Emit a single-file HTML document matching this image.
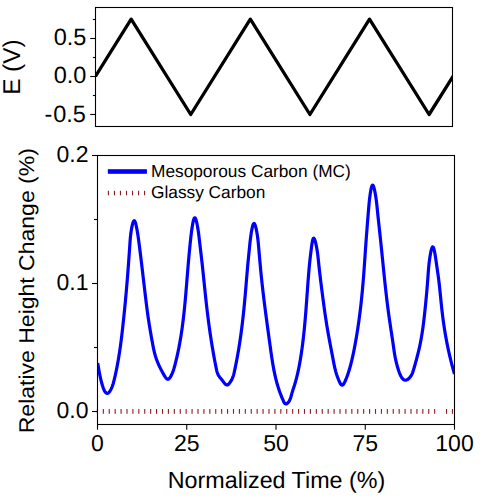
<!DOCTYPE html>
<html><head><meta charset="utf-8"><style>
html,body{margin:0;padding:0;background:#fff;}
svg{display:block;}
text{font-family:"Liberation Sans",sans-serif;fill:#000;text-rendering:geometricPrecision;}
</style></head><body>
<svg width="491" height="504" viewBox="0 0 491 504">
<rect x="0" y="0" width="491" height="504" fill="#fff"/>
<defs><clipPath id="cb"><rect x="97.5" y="155.5" width="357.0" height="269.0"/></clipPath>
<clipPath id="ct"><rect x="95.5" y="7.5" width="357.0" height="119.0"/></clipPath></defs>
<g clip-path="url(#ct)"><path d="M95.41,76.50 L131.16,19.12 L190.75,114.50 L250.34,19.12 L309.93,114.50 L369.51,19.12 L429.10,114.50 L467.24,53.70" fill="none" stroke="#000" stroke-width="3.3" stroke-linejoin="round"/></g>
<rect x="95.5" y="7.5" width="357.00" height="119.00" fill="none" stroke="#000" stroke-width="1.1"/>
<g fill="#921a22"><rect x="96.85" y="409.0" width="1.1" height="4.8"/><rect x="102.77" y="409.0" width="1.1" height="4.8"/><rect x="108.68" y="409.0" width="1.1" height="4.8"/><rect x="114.60" y="409.0" width="1.1" height="4.8"/><rect x="120.52" y="409.0" width="1.1" height="4.8"/><rect x="126.44" y="409.0" width="1.1" height="4.8"/><rect x="132.35" y="409.0" width="1.1" height="4.8"/><rect x="138.27" y="409.0" width="1.1" height="4.8"/><rect x="144.19" y="409.0" width="1.1" height="4.8"/><rect x="150.10" y="409.0" width="1.1" height="4.8"/><rect x="156.02" y="409.0" width="1.1" height="4.8"/><rect x="161.94" y="409.0" width="1.1" height="4.8"/><rect x="167.85" y="409.0" width="1.1" height="4.8"/><rect x="173.77" y="409.0" width="1.1" height="4.8"/><rect x="179.69" y="409.0" width="1.1" height="4.8"/><rect x="185.60" y="409.0" width="1.1" height="4.8"/><rect x="191.52" y="409.0" width="1.1" height="4.8"/><rect x="197.44" y="409.0" width="1.1" height="4.8"/><rect x="203.36" y="409.0" width="1.1" height="4.8"/><rect x="209.27" y="409.0" width="1.1" height="4.8"/><rect x="215.19" y="409.0" width="1.1" height="4.8"/><rect x="221.11" y="409.0" width="1.1" height="4.8"/><rect x="227.02" y="409.0" width="1.1" height="4.8"/><rect x="232.94" y="409.0" width="1.1" height="4.8"/><rect x="238.86" y="409.0" width="1.1" height="4.8"/><rect x="244.77" y="409.0" width="1.1" height="4.8"/><rect x="250.69" y="409.0" width="1.1" height="4.8"/><rect x="256.61" y="409.0" width="1.1" height="4.8"/><rect x="262.53" y="409.0" width="1.1" height="4.8"/><rect x="268.44" y="409.0" width="1.1" height="4.8"/><rect x="274.36" y="409.0" width="1.1" height="4.8"/><rect x="280.28" y="409.0" width="1.1" height="4.8"/><rect x="286.19" y="409.0" width="1.1" height="4.8"/><rect x="292.11" y="409.0" width="1.1" height="4.8"/><rect x="298.03" y="409.0" width="1.1" height="4.8"/><rect x="303.94" y="409.0" width="1.1" height="4.8"/><rect x="309.86" y="409.0" width="1.1" height="4.8"/><rect x="315.78" y="409.0" width="1.1" height="4.8"/><rect x="321.70" y="409.0" width="1.1" height="4.8"/><rect x="327.61" y="409.0" width="1.1" height="4.8"/><rect x="333.53" y="409.0" width="1.1" height="4.8"/><rect x="339.45" y="409.0" width="1.1" height="4.8"/><rect x="345.36" y="409.0" width="1.1" height="4.8"/><rect x="351.28" y="409.0" width="1.1" height="4.8"/><rect x="357.20" y="409.0" width="1.1" height="4.8"/><rect x="363.11" y="409.0" width="1.1" height="4.8"/><rect x="369.03" y="409.0" width="1.1" height="4.8"/><rect x="374.95" y="409.0" width="1.1" height="4.8"/><rect x="380.87" y="409.0" width="1.1" height="4.8"/><rect x="386.78" y="409.0" width="1.1" height="4.8"/><rect x="392.70" y="409.0" width="1.1" height="4.8"/><rect x="398.62" y="409.0" width="1.1" height="4.8"/><rect x="404.53" y="409.0" width="1.1" height="4.8"/><rect x="410.45" y="409.0" width="1.1" height="4.8"/><rect x="416.37" y="409.0" width="1.1" height="4.8"/><rect x="422.29" y="409.0" width="1.1" height="4.8"/><rect x="428.20" y="409.0" width="1.1" height="4.8"/><rect x="434.12" y="409.0" width="1.1" height="4.8"/><rect x="445.95" y="409.0" width="1.1" height="4.8"/><rect x="451.87" y="409.0" width="1.1" height="4.8"/></g>
<g clip-path="url(#cb)"><path d="M97.65,363.00 L97.91,364.40 L98.17,365.84 L98.43,367.29 L98.69,368.76 L98.95,370.24 L99.22,371.71 L99.50,373.18 L99.77,374.62 L100.05,376.03 L100.34,377.41 L100.64,378.75 L100.95,380.06 L101.28,381.39 L101.65,382.76 L102.07,384.22 L102.54,385.79 L103.09,387.49 L103.72,389.19 L104.45,390.76 L105.30,392.08 L106.26,393.01 L107.27,393.37 L108.28,393.03 L109.25,392.10 L110.14,390.82 L110.93,389.41 L111.62,387.99 L112.21,386.57 L112.72,385.14 L113.17,383.71 L113.57,382.28 L113.94,380.85 L114.29,379.41 L114.63,377.97 L114.97,376.54 L115.29,375.10 L115.61,373.66 L115.92,372.22 L116.22,370.78 L116.52,369.33 L116.81,367.89 L117.09,366.45 L117.36,365.00 L117.63,363.56 L117.89,362.11 L118.15,360.66 L118.40,359.22 L118.64,357.77 L118.88,356.32 L119.11,354.87 L119.34,353.42 L119.56,351.97 L119.78,350.52 L119.99,349.07 L120.20,347.62 L120.40,346.17 L120.60,344.72 L120.80,343.26 L120.99,341.81 L121.17,340.36 L121.36,338.91 L121.54,337.45 L121.71,336.00 L121.89,334.54 L122.06,333.09 L122.23,331.64 L122.39,330.18 L122.56,328.73 L122.72,327.27 L122.88,325.82 L123.04,324.36 L123.19,322.91 L123.35,321.45 L123.50,320.00 L123.65,318.54 L123.80,317.09 L123.95,315.64 L124.10,314.18 L124.25,312.73 L124.39,311.27 L124.54,309.82 L124.68,308.36 L124.83,306.90 L124.97,305.45 L125.11,303.99 L125.25,302.53 L125.39,301.07 L125.53,299.61 L125.66,298.15 L125.80,296.69 L125.93,295.23 L126.06,293.77 L126.20,292.30 L126.33,290.84 L126.45,289.37 L126.58,287.90 L126.71,286.43 L126.83,284.96 L126.96,283.48 L127.08,282.01 L127.20,280.53 L127.32,279.06 L127.44,277.58 L127.56,276.10 L127.68,274.63 L127.79,273.15 L127.91,271.68 L128.02,270.20 L128.13,268.73 L128.24,267.26 L128.35,265.79 L128.46,264.32 L128.57,262.86 L128.68,261.40 L128.78,259.94 L128.89,258.49 L128.99,257.04 L129.09,255.59 L129.19,254.15 L129.30,252.72 L129.39,251.28 L129.49,249.86 L129.59,248.44 L129.69,247.03 L129.78,245.62 L129.88,244.22 L129.97,242.83 L130.07,241.44 L130.17,240.04 L130.28,238.62 L130.41,237.14 L130.57,235.60 L130.76,233.98 L130.99,232.26 L131.26,230.42 L131.59,228.52 L131.95,226.63 L132.34,224.86 L132.76,223.30 L133.19,222.02 L133.64,221.13 L134.09,220.72 L134.54,220.87 L134.98,221.53 L135.41,222.62 L135.83,224.06 L136.23,225.74 L136.61,227.57 L136.97,229.48 L137.29,231.36 L137.59,233.13 L137.85,234.80 L138.09,236.37 L138.31,237.87 L138.51,239.31 L138.71,240.72 L138.89,242.10 L139.07,243.48 L139.25,244.87 L139.43,246.26 L139.61,247.67 L139.79,249.07 L139.97,250.49 L140.15,251.90 L140.33,253.33 L140.50,254.76 L140.68,256.19 L140.86,257.63 L141.03,259.07 L141.21,260.52 L141.38,261.97 L141.56,263.42 L141.73,264.88 L141.90,266.33 L142.08,267.80 L142.25,269.26 L142.42,270.73 L142.60,272.19 L142.77,273.66 L142.94,275.13 L143.12,276.61 L143.29,278.08 L143.46,279.55 L143.63,281.02 L143.81,282.50 L143.98,283.97 L144.15,285.44 L144.33,286.91 L144.50,288.38 L144.67,289.85 L144.85,291.31 L145.02,292.78 L145.19,294.24 L145.37,295.70 L145.54,297.16 L145.72,298.61 L145.90,300.06 L146.07,301.51 L146.25,302.96 L146.43,304.41 L146.62,305.85 L146.80,307.30 L146.99,308.74 L147.18,310.19 L147.37,311.63 L147.57,313.07 L147.77,314.52 L147.97,315.96 L148.18,317.41 L148.39,318.85 L148.61,320.30 L148.83,321.75 L149.05,323.20 L149.28,324.65 L149.52,326.10 L149.75,327.55 L149.99,329.00 L150.24,330.46 L150.49,331.91 L150.74,333.36 L150.99,334.81 L151.25,336.26 L151.51,337.71 L151.77,339.16 L152.03,340.61 L152.30,342.05 L152.57,343.49 L152.84,344.94 L153.11,346.38 L153.40,347.81 L153.69,349.25 L154.00,350.68 L154.34,352.10 L154.69,353.52 L155.08,354.93 L155.50,356.34 L155.95,357.74 L156.42,359.13 L156.93,360.50 L157.46,361.86 L158.01,363.20 L158.59,364.51 L159.18,365.81 L159.79,367.09 L160.43,368.36 L161.10,369.66 L161.81,371.00 L162.56,372.40 L163.37,373.88 L164.22,375.43 L165.12,376.91 L166.06,378.16 L167.00,379.01 L167.96,379.28 L168.90,378.88 L169.82,377.92 L170.68,376.58 L171.48,375.03 L172.19,373.44 L172.80,371.90 L173.34,370.43 L173.81,369.00 L174.22,367.60 L174.61,366.21 L174.98,364.83 L175.34,363.44 L175.70,362.04 L176.04,360.64 L176.38,359.23 L176.72,357.81 L177.04,356.39 L177.36,354.97 L177.67,353.54 L177.98,352.10 L178.28,350.67 L178.57,349.23 L178.86,347.78 L179.14,346.34 L179.41,344.89 L179.68,343.44 L179.94,341.99 L180.19,340.54 L180.44,339.08 L180.68,337.63 L180.92,336.18 L181.15,334.72 L181.37,333.27 L181.59,331.82 L181.81,330.37 L182.01,328.91 L182.22,327.46 L182.41,326.01 L182.61,324.56 L182.79,323.11 L182.98,321.65 L183.16,320.20 L183.33,318.75 L183.50,317.30 L183.67,315.85 L183.83,314.40 L183.99,312.94 L184.14,311.49 L184.30,310.04 L184.44,308.58 L184.59,307.13 L184.73,305.68 L184.87,304.22 L185.01,302.77 L185.15,301.31 L185.28,299.86 L185.41,298.40 L185.54,296.94 L185.67,295.49 L185.79,294.03 L185.92,292.57 L186.04,291.11 L186.16,289.65 L186.28,288.19 L186.40,286.73 L186.52,285.26 L186.64,283.80 L186.76,282.34 L186.88,280.87 L186.99,279.41 L187.11,277.94 L187.23,276.47 L187.35,275.00 L187.47,273.53 L187.59,272.06 L187.71,270.59 L187.83,269.11 L187.95,267.64 L188.08,266.16 L188.20,264.69 L188.33,263.21 L188.46,261.73 L188.59,260.26 L188.72,258.79 L188.85,257.32 L188.98,255.85 L189.12,254.39 L189.25,252.93 L189.39,251.48 L189.53,250.03 L189.67,248.60 L189.81,247.17 L189.95,245.74 L190.09,244.33 L190.23,242.93 L190.38,241.54 L190.52,240.16 L190.67,238.79 L190.82,237.41 L190.97,236.02 L191.15,234.58 L191.33,233.08 L191.54,231.50 L191.78,229.81 L192.04,228.00 L192.34,226.09 L192.66,224.17 L193.01,222.34 L193.38,220.68 L193.77,219.31 L194.18,218.30 L194.60,217.77 L195.02,217.79 L195.46,218.37 L195.89,219.41 L196.31,220.81 L196.72,222.48 L197.11,224.32 L197.47,226.23 L197.79,228.12 L198.08,229.89 L198.33,231.53 L198.54,233.06 L198.73,234.51 L198.91,235.89 L199.07,237.25 L199.22,238.60 L199.38,239.97 L199.55,241.38 L199.71,242.81 L199.88,244.27 L200.06,245.73 L200.23,247.19 L200.40,248.65 L200.57,250.11 L200.74,251.57 L200.92,253.03 L201.09,254.49 L201.26,255.95 L201.42,257.41 L201.59,258.87 L201.76,260.33 L201.92,261.79 L202.09,263.25 L202.25,264.71 L202.41,266.17 L202.57,267.63 L202.73,269.08 L202.88,270.54 L203.04,272.00 L203.19,273.46 L203.34,274.91 L203.49,276.37 L203.64,277.83 L203.79,279.28 L203.94,280.74 L204.09,282.20 L204.24,283.65 L204.39,285.11 L204.54,286.57 L204.69,288.02 L204.84,289.48 L204.99,290.93 L205.14,292.39 L205.29,293.85 L205.45,295.30 L205.60,296.76 L205.76,298.22 L205.92,299.67 L206.08,301.13 L206.24,302.59 L206.40,304.05 L206.57,305.50 L206.73,306.96 L206.90,308.42 L207.07,309.88 L207.25,311.33 L207.42,312.79 L207.60,314.25 L207.78,315.71 L207.96,317.16 L208.15,318.62 L208.34,320.08 L208.53,321.53 L208.72,322.99 L208.92,324.45 L209.11,325.90 L209.31,327.36 L209.52,328.81 L209.72,330.27 L209.93,331.72 L210.14,333.17 L210.35,334.62 L210.57,336.08 L210.79,337.53 L211.01,338.98 L211.24,340.43 L211.46,341.88 L211.69,343.32 L211.93,344.77 L212.17,346.22 L212.41,347.66 L212.65,349.11 L212.90,350.55 L213.15,351.99 L213.40,353.43 L213.65,354.87 L213.91,356.31 L214.18,357.75 L214.44,359.18 L214.71,360.62 L214.99,362.05 L215.26,363.48 L215.54,364.91 L215.83,366.34 L216.12,367.77 L216.41,369.19 L216.73,370.61 L217.10,372.00 L217.56,373.36 L218.12,374.67 L218.82,375.93 L219.66,377.13 L220.61,378.32 L221.61,379.53 L222.62,380.78 L223.61,382.12 L224.58,383.40 L225.55,384.42 L226.55,384.95 L227.60,384.81 L228.67,384.07 L229.71,382.92 L230.68,381.54 L231.52,380.09 L232.22,378.64 L232.81,377.20 L233.31,375.76 L233.73,374.33 L234.09,372.90 L234.41,371.47 L234.72,370.03 L235.02,368.60 L235.32,367.17 L235.61,365.74 L235.90,364.30 L236.19,362.87 L236.47,361.43 L236.74,360.00 L237.01,358.56 L237.28,357.12 L237.54,355.68 L237.80,354.25 L238.05,352.81 L238.30,351.36 L238.55,349.92 L238.79,348.48 L239.02,347.03 L239.26,345.59 L239.49,344.14 L239.71,342.70 L239.93,341.25 L240.15,339.80 L240.36,338.35 L240.57,336.90 L240.77,335.45 L240.97,333.99 L241.17,332.54 L241.36,331.08 L241.55,329.63 L241.74,328.17 L241.92,326.72 L242.10,325.26 L242.28,323.80 L242.45,322.34 L242.62,320.88 L242.79,319.42 L242.96,317.96 L243.12,316.50 L243.28,315.04 L243.43,313.58 L243.59,312.12 L243.74,310.66 L243.89,309.20 L244.03,307.74 L244.18,306.28 L244.32,304.82 L244.46,303.36 L244.59,301.90 L244.73,300.44 L244.86,298.98 L244.99,297.53 L245.12,296.07 L245.25,294.61 L245.38,293.15 L245.50,291.70 L245.63,290.24 L245.75,288.79 L245.87,287.33 L246.00,285.87 L246.12,284.42 L246.24,282.96 L246.36,281.50 L246.48,280.04 L246.60,278.58 L246.72,277.13 L246.85,275.66 L246.97,274.20 L247.10,272.74 L247.22,271.28 L247.35,269.81 L247.48,268.35 L247.61,266.88 L247.74,265.41 L247.87,263.94 L248.01,262.47 L248.15,261.00 L248.29,259.52 L248.43,258.04 L248.58,256.57 L248.72,255.10 L248.87,253.63 L249.02,252.18 L249.17,250.73 L249.31,249.30 L249.46,247.89 L249.60,246.50 L249.74,245.13 L249.88,243.78 L250.02,242.42 L250.17,241.03 L250.34,239.58 L250.53,238.07 L250.74,236.45 L250.99,234.71 L251.28,232.84 L251.60,230.92 L251.94,229.04 L252.32,227.29 L252.72,225.77 L253.13,224.56 L253.56,223.76 L254.00,223.45 L254.45,223.71 L254.89,224.47 L255.33,225.64 L255.76,227.13 L256.17,228.85 L256.55,230.71 L256.90,232.63 L257.21,234.51 L257.48,236.28 L257.71,237.94 L257.91,239.50 L258.07,240.99 L258.22,242.42 L258.36,243.81 L258.48,245.19 L258.60,246.57 L258.72,247.96 L258.85,249.36 L258.97,250.77 L259.09,252.19 L259.22,253.61 L259.34,255.04 L259.46,256.48 L259.59,257.93 L259.72,259.38 L259.85,260.83 L259.98,262.29 L260.11,263.75 L260.24,265.21 L260.38,266.68 L260.51,268.15 L260.65,269.62 L260.79,271.09 L260.94,272.56 L261.08,274.03 L261.23,275.50 L261.38,276.96 L261.53,278.43 L261.69,279.90 L261.84,281.37 L262.00,282.83 L262.16,284.30 L262.33,285.76 L262.49,287.23 L262.66,288.69 L262.83,290.15 L263.00,291.62 L263.17,293.08 L263.34,294.54 L263.52,296.00 L263.69,297.46 L263.87,298.92 L264.05,300.38 L264.23,301.84 L264.42,303.30 L264.60,304.76 L264.79,306.21 L264.97,307.67 L265.16,309.13 L265.35,310.58 L265.54,312.04 L265.73,313.50 L265.92,314.95 L266.11,316.40 L266.31,317.86 L266.50,319.31 L266.70,320.76 L266.89,322.22 L267.09,323.67 L267.28,325.12 L267.48,326.57 L267.68,328.02 L267.88,329.47 L268.08,330.92 L268.28,332.37 L268.47,333.82 L268.67,335.27 L268.87,336.71 L269.07,338.16 L269.27,339.61 L269.47,341.05 L269.67,342.50 L269.87,343.94 L270.07,345.39 L270.27,346.83 L270.47,348.28 L270.67,349.72 L270.87,351.17 L271.07,352.61 L271.28,354.05 L271.49,355.49 L271.70,356.93 L271.91,358.38 L272.14,359.82 L272.36,361.26 L272.60,362.70 L272.84,364.14 L273.08,365.57 L273.34,367.01 L273.60,368.45 L273.88,369.89 L274.16,371.33 L274.46,372.76 L274.76,374.20 L275.08,375.64 L275.41,377.07 L275.75,378.51 L276.11,379.94 L276.49,381.37 L276.87,382.81 L277.28,384.24 L277.70,385.67 L278.14,387.11 L278.59,388.54 L279.07,389.97 L279.56,391.40 L280.07,392.83 L280.61,394.26 L281.16,395.69 L281.74,397.12 L282.34,398.55 L282.96,399.98 L283.60,401.40 L284.29,402.69 L285.07,403.63 L285.96,403.98 L286.97,403.65 L288.01,402.77 L288.99,401.50 L289.81,400.01 L290.45,398.41 L290.96,396.77 L291.40,395.15 L291.83,393.60 L292.27,392.13 L292.70,390.72 L293.14,389.36 L293.57,388.03 L293.99,386.72 L294.41,385.40 L294.82,384.07 L295.23,382.72 L295.62,381.34 L296.00,379.95 L296.37,378.55 L296.74,377.13 L297.09,375.70 L297.43,374.26 L297.76,372.82 L298.09,371.37 L298.40,369.91 L298.70,368.46 L298.99,367.00 L299.28,365.55 L299.55,364.10 L299.81,362.65 L300.07,361.20 L300.32,359.75 L300.56,358.30 L300.79,356.86 L301.02,355.41 L301.24,353.96 L301.46,352.51 L301.67,351.06 L301.88,349.61 L302.08,348.16 L302.28,346.71 L302.47,345.26 L302.65,343.81 L302.83,342.36 L303.01,340.90 L303.18,339.45 L303.35,338.00 L303.52,336.55 L303.68,335.10 L303.83,333.64 L303.98,332.19 L304.13,330.74 L304.28,329.28 L304.42,327.83 L304.56,326.37 L304.69,324.92 L304.83,323.46 L304.96,322.00 L305.09,320.54 L305.21,319.09 L305.33,317.63 L305.46,316.17 L305.57,314.71 L305.69,313.25 L305.81,311.79 L305.92,310.33 L306.03,308.87 L306.14,307.41 L306.25,305.94 L306.36,304.48 L306.47,303.01 L306.58,301.55 L306.68,300.08 L306.79,298.62 L306.90,297.15 L307.00,295.68 L307.11,294.21 L307.21,292.74 L307.32,291.27 L307.43,289.80 L307.53,288.33 L307.64,286.86 L307.75,285.38 L307.86,283.91 L307.97,282.43 L308.08,280.96 L308.20,279.48 L308.31,278.00 L308.43,276.52 L308.55,275.05 L308.67,273.58 L308.79,272.11 L308.92,270.66 L309.04,269.21 L309.17,267.77 L309.31,266.34 L309.44,264.92 L309.58,263.52 L309.72,262.13 L309.87,260.76 L310.01,259.41 L310.17,258.05 L310.33,256.67 L310.50,255.24 L310.68,253.73 L310.88,252.14 L311.09,250.43 L311.32,248.58 L311.57,246.65 L311.83,244.73 L312.12,242.89 L312.43,241.24 L312.76,239.85 L313.11,238.83 L313.49,238.25 L313.89,238.20 L314.30,238.70 L314.74,239.65 L315.17,240.97 L315.60,242.58 L316.01,244.37 L316.40,246.28 L316.76,248.20 L317.07,250.05 L317.34,251.78 L317.57,253.38 L317.77,254.88 L317.94,256.32 L318.09,257.70 L318.23,259.05 L318.37,260.40 L318.51,261.77 L318.66,263.16 L318.81,264.57 L318.96,265.99 L319.12,267.44 L319.28,268.89 L319.45,270.36 L319.62,271.83 L319.79,273.31 L319.96,274.79 L320.14,276.27 L320.31,277.74 L320.49,279.22 L320.67,280.69 L320.85,282.15 L321.03,283.61 L321.22,285.07 L321.40,286.53 L321.59,287.98 L321.77,289.43 L321.96,290.88 L322.14,292.33 L322.33,293.78 L322.52,295.23 L322.71,296.68 L322.90,298.13 L323.09,299.57 L323.28,301.02 L323.47,302.47 L323.67,303.92 L323.86,305.37 L324.06,306.82 L324.26,308.26 L324.46,309.71 L324.67,311.16 L324.88,312.61 L325.08,314.06 L325.30,315.51 L325.51,316.95 L325.73,318.40 L325.95,319.85 L326.18,321.30 L326.40,322.75 L326.63,324.20 L326.87,325.65 L327.11,327.10 L327.35,328.55 L327.60,330.00 L327.85,331.46 L328.10,332.91 L328.36,334.36 L328.62,335.81 L328.89,337.26 L329.15,338.71 L329.42,340.16 L329.69,341.61 L329.96,343.05 L330.24,344.50 L330.51,345.94 L330.79,347.39 L331.06,348.82 L331.34,350.26 L331.62,351.70 L331.89,353.13 L332.17,354.56 L332.44,355.99 L332.72,357.41 L332.99,358.83 L333.26,360.25 L333.53,361.66 L333.80,363.07 L334.08,364.48 L334.37,365.90 L334.67,367.31 L335.00,368.73 L335.36,370.16 L335.74,371.59 L336.16,373.03 L336.62,374.49 L337.12,375.95 L337.67,377.46 L338.28,379.05 L338.94,380.73 L339.65,382.36 L340.41,383.78 L341.19,384.78 L342.01,385.18 L342.85,384.84 L343.68,383.87 L344.47,382.50 L345.21,380.98 L345.87,379.49 L346.47,378.04 L347.01,376.61 L347.52,375.19 L348.00,373.78 L348.47,372.37 L348.92,370.95 L349.35,369.54 L349.77,368.12 L350.17,366.70 L350.55,365.29 L350.93,363.87 L351.29,362.45 L351.64,361.03 L351.97,359.61 L352.30,358.19 L352.62,356.77 L352.93,355.34 L353.23,353.92 L353.53,352.49 L353.82,351.06 L354.10,349.63 L354.38,348.20 L354.66,346.76 L354.93,345.33 L355.20,343.89 L355.46,342.45 L355.72,341.01 L355.97,339.57 L356.22,338.13 L356.47,336.68 L356.71,335.24 L356.95,333.79 L357.18,332.35 L357.41,330.90 L357.64,329.45 L357.86,328.00 L358.08,326.55 L358.29,325.09 L358.50,323.64 L358.71,322.19 L358.91,320.73 L359.11,319.28 L359.30,317.82 L359.50,316.36 L359.68,314.90 L359.87,313.45 L360.05,311.99 L360.23,310.53 L360.41,309.07 L360.58,307.61 L360.75,306.15 L360.91,304.69 L361.07,303.23 L361.23,301.77 L361.39,300.31 L361.54,298.85 L361.69,297.39 L361.84,295.93 L361.99,294.47 L362.13,293.01 L362.27,291.55 L362.41,290.09 L362.54,288.63 L362.67,287.17 L362.80,285.71 L362.93,284.25 L363.05,282.79 L363.17,281.33 L363.29,279.88 L363.41,278.42 L363.52,276.97 L363.64,275.51 L363.75,274.05 L363.86,272.60 L363.97,271.14 L364.07,269.69 L364.18,268.23 L364.28,266.78 L364.38,265.32 L364.49,263.87 L364.59,262.41 L364.69,260.95 L364.79,259.49 L364.89,258.03 L364.99,256.57 L365.09,255.11 L365.19,253.65 L365.29,252.19 L365.39,250.72 L365.49,249.25 L365.59,247.78 L365.70,246.31 L365.80,244.84 L365.91,243.36 L366.01,241.89 L366.12,240.41 L366.23,238.93 L366.34,237.45 L366.45,235.97 L366.56,234.49 L366.67,233.02 L366.79,231.54 L366.90,230.07 L367.01,228.59 L367.13,227.13 L367.24,225.66 L367.36,224.20 L367.48,222.74 L367.59,221.29 L367.71,219.84 L367.83,218.39 L367.94,216.96 L368.06,215.53 L368.18,214.10 L368.30,212.69 L368.41,211.28 L368.53,209.88 L368.65,208.49 L368.77,207.10 L368.89,205.72 L369.01,204.32 L369.15,202.88 L369.30,201.38 L369.47,199.80 L369.67,198.13 L369.89,196.35 L370.14,194.45 L370.43,192.53 L370.74,190.65 L371.07,188.92 L371.42,187.42 L371.80,186.24 L372.19,185.45 L372.59,185.15 L373.01,185.41 L373.43,186.15 L373.84,187.31 L374.25,188.78 L374.65,190.49 L375.02,192.34 L375.37,194.26 L375.69,196.16 L375.96,197.95 L376.20,199.62 L376.40,201.20 L376.59,202.70 L376.75,204.13 L376.89,205.53 L377.04,206.91 L377.18,208.28 L377.32,209.66 L377.46,211.06 L377.61,212.46 L377.75,213.87 L377.90,215.29 L378.05,216.71 L378.21,218.14 L378.36,219.58 L378.52,221.03 L378.67,222.48 L378.83,223.93 L378.99,225.39 L379.14,226.86 L379.30,228.32 L379.46,229.79 L379.62,231.27 L379.78,232.74 L379.94,234.22 L380.10,235.70 L380.25,237.18 L380.41,238.65 L380.57,240.13 L380.73,241.61 L380.88,243.09 L381.04,244.56 L381.19,246.03 L381.34,247.50 L381.49,248.97 L381.64,250.44 L381.79,251.90 L381.94,253.37 L382.09,254.83 L382.23,256.29 L382.38,257.75 L382.53,259.20 L382.67,260.66 L382.82,262.11 L382.97,263.57 L383.11,265.02 L383.26,266.47 L383.40,267.92 L383.55,269.37 L383.70,270.82 L383.85,272.26 L383.99,273.71 L384.14,275.16 L384.29,276.61 L384.44,278.05 L384.59,279.50 L384.74,280.95 L384.90,282.39 L385.05,283.84 L385.21,285.29 L385.37,286.73 L385.52,288.18 L385.68,289.63 L385.85,291.08 L386.01,292.53 L386.18,293.98 L386.34,295.43 L386.51,296.88 L386.68,298.34 L386.86,299.79 L387.03,301.25 L387.21,302.71 L387.39,304.16 L387.58,305.62 L387.76,307.09 L387.95,308.55 L388.14,310.01 L388.34,311.48 L388.54,312.95 L388.74,314.42 L388.94,315.90 L389.15,317.37 L389.36,318.85 L389.57,320.33 L389.79,321.81 L390.01,323.29 L390.23,324.76 L390.45,326.24 L390.67,327.72 L390.89,329.19 L391.12,330.65 L391.34,332.12 L391.56,333.57 L391.78,335.03 L392.00,336.47 L392.21,337.91 L392.43,339.34 L392.64,340.76 L392.85,342.17 L393.05,343.57 L393.25,344.96 L393.45,346.34 L393.64,347.71 L393.84,349.08 L394.04,350.44 L394.24,351.80 L394.46,353.17 L394.69,354.55 L394.93,355.93 L395.19,357.34 L395.47,358.76 L395.78,360.20 L396.11,361.67 L396.48,363.17 L396.87,364.70 L397.30,366.27 L397.77,367.88 L398.29,369.53 L398.84,371.21 L399.44,372.87 L400.09,374.48 L400.80,375.97 L401.55,377.32 L402.37,378.46 L403.24,379.36 L404.17,379.97 L405.17,380.24 L406.23,380.13 L407.33,379.64 L408.44,378.86 L409.51,377.82 L410.49,376.62 L411.36,375.30 L412.07,373.93 L412.66,372.52 L413.15,371.09 L413.59,369.64 L414.01,368.19 L414.43,366.74 L414.84,365.29 L415.24,363.85 L415.64,362.42 L416.04,360.98 L416.43,359.55 L416.81,358.12 L417.18,356.69 L417.55,355.27 L417.91,353.84 L418.27,352.42 L418.61,351.00 L418.94,349.58 L419.27,348.16 L419.59,346.74 L419.89,345.31 L420.19,343.89 L420.47,342.47 L420.75,341.05 L421.01,339.62 L421.27,338.20 L421.52,336.77 L421.76,335.34 L421.99,333.91 L422.21,332.48 L422.43,331.05 L422.64,329.61 L422.84,328.17 L423.04,326.73 L423.23,325.29 L423.42,323.84 L423.60,322.39 L423.78,320.94 L423.95,319.48 L424.12,318.02 L424.29,316.56 L424.45,315.10 L424.61,313.62 L424.77,312.15 L424.93,310.67 L425.08,309.19 L425.24,307.70 L425.39,306.21 L425.54,304.72 L425.68,303.23 L425.83,301.74 L425.97,300.25 L426.12,298.76 L426.26,297.27 L426.39,295.78 L426.53,294.30 L426.66,292.82 L426.79,291.35 L426.92,289.88 L427.04,288.42 L427.16,286.96 L427.28,285.51 L427.40,284.07 L427.51,282.64 L427.62,281.22 L427.73,279.81 L427.84,278.40 L427.94,277.01 L428.04,275.64 L428.13,274.27 L428.23,272.91 L428.32,271.54 L428.43,270.16 L428.54,268.75 L428.67,267.31 L428.81,265.82 L428.98,264.27 L429.16,262.66 L429.37,260.98 L429.61,259.21 L429.89,257.34 L430.19,255.42 L430.52,253.52 L430.88,251.71 L431.25,250.08 L431.64,248.71 L432.04,247.66 L432.44,247.02 L432.84,246.87 L433.23,247.24 L433.62,248.08 L434.00,249.30 L434.37,250.82 L434.72,252.55 L435.06,254.41 L435.37,256.31 L435.66,258.18 L435.92,259.94 L436.15,261.57 L436.37,263.09 L436.58,264.53 L436.77,265.92 L436.96,267.28 L437.16,268.64 L437.35,270.02 L437.56,271.42 L437.77,272.86 L437.98,274.30 L438.19,275.76 L438.39,277.22 L438.58,278.67 L438.76,280.13 L438.94,281.59 L439.11,283.05 L439.28,284.51 L439.45,285.97 L439.60,287.42 L439.76,288.88 L439.91,290.34 L440.06,291.80 L440.21,293.26 L440.36,294.72 L440.51,296.18 L440.65,297.64 L440.80,299.10 L440.94,300.56 L441.09,302.02 L441.24,303.48 L441.39,304.94 L441.54,306.40 L441.70,307.85 L441.86,309.31 L442.02,310.77 L442.19,312.22 L442.36,313.68 L442.54,315.14 L442.72,316.59 L442.90,318.04 L443.10,319.50 L443.29,320.95 L443.50,322.40 L443.70,323.85 L443.91,325.30 L444.13,326.75 L444.35,328.20 L444.58,329.65 L444.82,331.10 L445.05,332.54 L445.30,333.99 L445.55,335.43 L445.80,336.88 L446.06,338.32 L446.33,339.76 L446.60,341.20 L446.88,342.64 L447.16,344.08 L447.45,345.52 L447.74,346.95 L448.04,348.39 L448.35,349.82 L448.66,351.25 L448.98,352.68 L449.30,354.11 L449.63,355.54 L449.97,356.97 L450.31,358.39 L450.66,359.82 L451.01,361.24 L451.37,362.66 L451.74,364.08 L452.11,365.50 L452.49,366.92 L452.87,368.34 L453.27,369.75 L453.67,371.16 L454.07,372.57 L454.48,373.98" fill="none" stroke="#0000ff" stroke-width="3.2" stroke-linejoin="round"/></g>
<rect x="97.5" y="155.5" width="357.00" height="269.00" fill="none" stroke="#000" stroke-width="1.1"/>
<g stroke="#000" stroke-width="1.1"><line x1="90.20" y1="38.50" x2="95.50" y2="38.50"/><line x1="90.20" y1="76.50" x2="95.50" y2="76.50"/><line x1="90.20" y1="114.50" x2="95.50" y2="114.50"/><line x1="92.90" y1="19.50" x2="95.50" y2="19.50"/><line x1="92.90" y1="57.50" x2="95.50" y2="57.50"/><line x1="92.90" y1="95.50" x2="95.50" y2="95.50"/><line x1="92.00" y1="411.50" x2="97.50" y2="411.50"/><line x1="92.00" y1="283.50" x2="97.50" y2="283.50"/><line x1="92.00" y1="155.50" x2="97.50" y2="155.50"/><line x1="94.00" y1="347.50" x2="97.50" y2="347.50"/><line x1="94.00" y1="219.50" x2="97.50" y2="219.50"/><line x1="97.50" y1="424.50" x2="97.50" y2="429.70"/><line x1="186.75" y1="424.50" x2="186.75" y2="429.70"/><line x1="276.00" y1="424.50" x2="276.00" y2="429.70"/><line x1="365.25" y1="424.50" x2="365.25" y2="429.70"/><line x1="454.50" y1="424.50" x2="454.50" y2="429.70"/></g>
<rect x="107.8" y="169.2" width="39.1" height="4.6" fill="#0000ff"/>
<g fill="#921a22"><rect x="107.85" y="190.8" width="1.1" height="4.5"/><rect x="113.88" y="190.8" width="1.1" height="4.5"/><rect x="119.91" y="190.8" width="1.1" height="4.5"/><rect x="125.94" y="190.8" width="1.1" height="4.5"/><rect x="131.97" y="190.8" width="1.1" height="4.5"/><rect x="138.00" y="190.8" width="1.1" height="4.5"/><rect x="144.03" y="190.8" width="1.1" height="4.5"/></g>
<text x="86.40" y="45.05" text-anchor="end" font-size="23.5" >0.5</text><text x="86.40" y="83.05" text-anchor="end" font-size="23.5" >0.0</text><text x="86.40" y="122.25" text-anchor="end" font-size="23.5" ><tspan dx="-0.5">-</tspan><tspan dx="1">0.5</tspan></text><text x="88.50" y="162.10" text-anchor="end" font-size="23" >0.2</text><text x="88.50" y="290.10" text-anchor="end" font-size="23" >0.1</text><text x="88.50" y="418.10" text-anchor="end" font-size="23" >0.0</text><text x="97.50" y="451.20" text-anchor="middle" font-size="23" >0</text><text x="186.75" y="451.20" text-anchor="middle" font-size="23" >25</text><text x="276.00" y="451.20" text-anchor="middle" font-size="23" >50</text><text x="365.25" y="451.20" text-anchor="middle" font-size="23" >75</text><text x="454.50" y="451.20" text-anchor="middle" font-size="23" >100</text><text x="276.50" y="488.00" text-anchor="middle" font-size="23.3" >Normalized Time (%)</text><text transform="translate(20.0,67.2) rotate(-90)" text-anchor="middle" font-size="24.3">E (V)</text><text transform="translate(33.5,290.7) rotate(-90) scale(1,0.93)" text-anchor="middle" font-size="23">Relative Height Change (%)</text><text x="151.00" y="177.00" text-anchor="start" font-size="17.3" >Mesoporous Carbon (MC)</text><text x="151.00" y="198.20" text-anchor="start" font-size="17.3" >Glassy Carbon</text>
</svg>
</body></html>
